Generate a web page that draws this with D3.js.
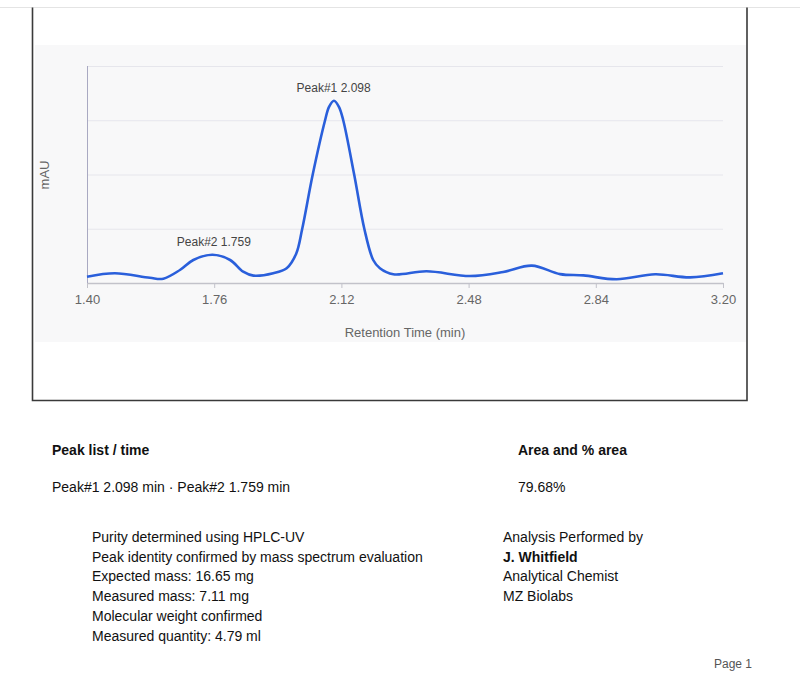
<!DOCTYPE html>
<html>
<head>
<meta charset="utf-8">
<script src="https://cdn.jsdelivr.net/npm/d3@7"></script>
<style>
  body { margin: 0; background: #fff; }
  svg { display: block; font-family: 'Liberation Sans', Arial, sans-serif; }
</style>
</head>
<body>
<div id="page"></div>
<script>
// chromatogram trace (minutes, mAU on a 0-100 grid)
const times = [1.40, 1.479, 1.578, 1.616, 1.663, 1.701, 1.755, 1.805, 1.842, 1.871, 1.927, 1.965, 1.992, 2.009, 2.039, 2.074, 2.085, 2.099,
  2.113, 2.125, 2.156, 2.185, 2.210, 2.229, 2.267, 2.361, 2.484, 2.578, 2.659, 2.739, 2.805, 2.899, 3.008, 3.107, 3.20];
const mAU = [2.9, 4.5, 2.4, 2.0, 6.0, 10.6, 13.0, 10.6, 5.2, 3.4, 4.5, 6.8, 13.5, 24.9, 50.1, 75.1, 81.2, 84.0,
  81.2, 75.1, 50.1, 24.9, 10.6, 6.8, 4.0, 5.4, 3.2, 5.1, 8.0, 4.1, 3.5, 1.7, 4.0, 2.6, 4.5];

const peakNames = ['Peak#1', 'Peak#2'];
const peakTimes = [2.098, 1.759];
const peakHeights = [84.0, 13.0];

const xTicks = [1.40, 1.76, 2.12, 2.48, 2.84, 3.20];
const yGrid = [0, 25, 50, 75, 100];

const headerLeft = 'Peak list / time';
const headerRight = 'Area and % area';
const areaPct = '79.68%';
const notes = [
  'Purity determined using HPLC-UV',
  'Peak identity confirmed by mass spectrum evaluation',
  'Expected mass: 16.65 mg',
  'Measured mass: 7.11 mg',
  'Molecular weight confirmed',
  'Measured quantity: 4.79 ml'
];
const signature = ['Analysis Performed by', 'J. Whitfield', 'Analytical Chemist', 'MZ Biolabs'];

const width = 800, height = 700;
const marginLeft = 87, marginRight = 77, marginTop = 66, plotBottom = 283;

const svg = d3.select('#page').append('svg')
  .attr('width', width)
  .attr('height', height)
  .attr('viewBox', [0, 0, width, height]);

// page frame
svg.append('line')
  .attr('x1', 0).attr('x2', width).attr('y1', 7.5).attr('y2', 7.5)
  .attr('stroke', '#e4e4e4');
svg.append('path')
  .attr('d', 'M32.5,7.5V400.5H747V7.5')
  .attr('fill', 'none')
  .attr('stroke', '#3a3a3a')
  .attr('stroke-width', 1.6);

// chart panel
svg.append('rect')
  .attr('x', 35).attr('y', 45)
  .attr('width', 711).attr('height', 297)
  .attr('fill', '#f8f8f9');

const x = d3.scaleLinear([1.40, 3.20], [marginLeft, width - marginRight]);
const y = d3.scaleLinear([0, 100], [plotBottom, marginTop]);

// horizontal grid
svg.append('g')
  .selectAll('line')
  .data(yGrid.slice(1))
  .join('line')
  .attr('x1', x(1.40)).attr('x2', x(3.20))
  .attr('y1', d => y(d) + 0.5).attr('y2', d => y(d) + 0.5)
  .attr('stroke', '#e6e6ec');

// x axis
svg.append('g')
  .attr('transform', `translate(0,${plotBottom})`)
  .call(d3.axisBottom(x).tickValues(xTicks).tickFormat(d3.format('.2f')).tickSize(5).tickSizeOuter(0))
  .call(g => g.select('.domain').attr('stroke', '#c2c2ca').attr('stroke-width', 1.5))
  .call(g => g.selectAll('.tick line').attr('stroke', '#c2c2ca'))
  .call(g => g.selectAll('.tick text')
    .attr('y', 12)
    .attr('fill', '#666')
    .attr('font-size', 13)
    .attr('font-family', "'Liberation Sans', Arial, sans-serif"));

// y axis line only
svg.append('line')
  .attr('x1', marginLeft + 0.5).attr('x2', marginLeft + 0.5)
  .attr('y1', y(100)).attr('y2', plotBottom)
  .attr('stroke', '#a9a9c2');

svg.append('text')
  .attr('x', 405).attr('y', 337)
  .attr('text-anchor', 'middle')
  .attr('font-size', 13)
  .attr('fill', '#666')
  .text('Retention Time (min)');

svg.append('text')
  .attr('transform', 'translate(49,175) rotate(-90)')
  .attr('text-anchor', 'middle')
  .attr('font-size', 13)
  .attr('fill', '#666')
  .text('mAU');

// trace
const line = d3.line()
  .curve(d3.curveCatmullRom.alpha(0.5))
  .x((d, i) => x(times[i]))
  .y(d => y(d));

svg.append('path')
  .attr('fill', 'none')
  .attr('stroke', '#2a5fdb')
  .attr('stroke-width', 2.6)
  .attr('stroke-linejoin', 'round')
  .attr('d', line(mAU));

// peak labels
svg.append('g')
  .attr('font-size', 12)
  .attr('fill', '#444')
  .attr('text-anchor', 'middle')
  .selectAll('text')
  .data(peakNames)
  .join('text')
  .attr('x', (d, i) => x(peakTimes[i]))
  .attr('y', (d, i) => y(peakHeights[i]) - 9)
  .text((d, i) => `${d} ${d3.format('.3f')(peakTimes[i])}`);

// report text below the chart
const report = svg.append('g').attr('font-size', 14).attr('fill', '#111');

report.append('text').attr('x', 52).attr('y', 455).attr('font-weight', 'bold').text(headerLeft);
report.append('text').attr('x', 518).attr('y', 455).attr('font-weight', 'bold').text(headerRight);
report.append('text').attr('x', 52).attr('y', 492)
  .text(peakNames.map((d, i) => `${d} ${d3.format('.3f')(peakTimes[i])} min`).join(' \u00b7 '));
report.append('text').attr('x', 518).attr('y', 492).text(areaPct);

report.append('g')
  .selectAll('text')
  .data(notes)
  .join('text')
  .attr('x', 92)
  .attr('y', (d, i) => 542 + i * 19.7)
  .text(d => d);

report.append('g')
  .selectAll('text')
  .data(signature)
  .join('text')
  .attr('x', 503)
  .attr('y', (d, i) => 542 + i * 19.7)
  .attr('font-weight', (d, i) => i === 1 ? 'bold' : null)
  .text(d => d);

svg.append('text')
  .attr('x', 752).attr('y', 668)
  .attr('text-anchor', 'end')
  .attr('font-size', 12)
  .attr('fill', '#555')
  .text('Page 1');
</script>
</body>
</html>
